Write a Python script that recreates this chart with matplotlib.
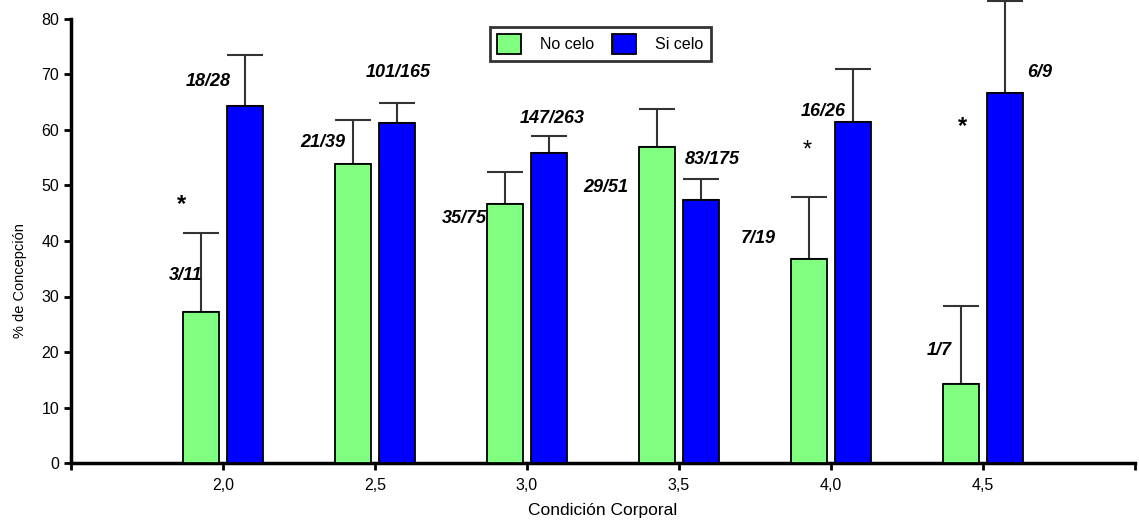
import matplotlib
matplotlib.use("Agg")
import matplotlib.pyplot as plt
from matplotlib.patches import Patch
import numpy as np

plt.rcParams['font.family'] = ['Liberation Sans', 'DejaVu Sans']

categories = [2.0, 2.5, 3.0, 3.5, 4.0, 4.5]
tick_labels = ["2,0", "2,5", "3,0", "3,5", "4,0", "4,5"]
no_celo = [27.2, 53.8, 46.7, 56.9, 36.8, 14.3]
si_celo = [64.3, 61.2, 55.9, 47.4, 61.5, 66.7]
no_celo_err = [14.2, 8.0, 5.8, 6.9, 11.2, 14.0]
si_celo_err = [9.2, 3.7, 3.0, 3.8, 9.5, 16.5]
series_names = ["No celo", "Si celo"]

# annotation labels (text, x, y)
ratio_no = ["3/11", "21/39", "35/75", "29/51", "7/19", "1/7"]
ratio_no_pos = [(1.878, 33.8), (2.329, 57.8), (2.793, 44.1), (3.260, 49.7), (3.760, 40.5), (4.355, 20.2)]
ratio_si = ["18/28", "101/165", "147/263", "83/175", "16/26", "6/9"]
ratio_si_pos = [(1.951, 68.8), (2.576, 70.3), (3.082, 62.0), (3.609, 54.6), (3.974, 63.4), (4.688, 70.3)]
stars = [(1.862, 46.5, 'bold', 17), (3.921, 56.3, 'normal', 17), (4.434, 60.6, 'bold', 17)]

green = "#80FF80"
blue = "#0000FF"

fig = plt.figure(figsize=(11.39, 5.21), dpi=100)
ax = fig.add_axes([71/1139, 1 - 463/521, (1135-71)/1139, (463-19)/521])

x = np.array(categories)
w = 0.118
off = 0.071
ax.bar(x - off, no_celo, width=w, color=green, edgecolor='black', linewidth=1.3, zorder=3)
ax.bar(x + off, si_celo, width=w, color=blue, edgecolor='black', linewidth=1.3, zorder=3)
for xs, vals, errs in [(x - off, no_celo, no_celo_err), (x + off, si_celo, si_celo_err)]:
    ax.errorbar(xs, vals, yerr=[np.zeros(len(vals)), errs], fmt='none', ecolor='#333333',
                elinewidth=1.5, capsize=13.3, capthick=1.5, zorder=2, clip_on=False)

for t, (tx, ty) in zip(ratio_no, ratio_no_pos):
    ax.text(tx, ty, t, ha='center', va='center', fontsize=13, fontweight='bold', fontstyle='italic')
for t, (tx, ty) in zip(ratio_si, ratio_si_pos):
    ax.text(tx, ty, t, ha='center', va='center', fontsize=13, fontweight='bold', fontstyle='italic')
for sx, sy, fw, fs in stars:
    ax.text(sx, sy, "*", ha='center', va='center', fontsize=fs, fontweight=fw)

ax.set_xlim(1.5, 5.0)
ax.set_ylim(0, 80)
ax.set_yticks(np.arange(0, 81, 10))
ax.set_xticks([1.5] + categories + [5.0])
ax.set_xticklabels([""] + tick_labels + [""])
ax.tick_params(axis='both', direction='out', length=5, width=2, labelsize=11.5)
ax.tick_params(axis='x', pad=6)
for s in ['top', 'right']:
    ax.spines[s].set_visible(False)
for s in ['left', 'bottom']:
    ax.spines[s].set_linewidth(2.5)

ax.set_xlabel("Condición Corporal", fontsize=12.5, labelpad=7)
ax.set_ylabel("% de Concepción", fontsize=10.5)
ax.yaxis.set_label_coords(-0.0415, (463 - 281) / 444)

handles = [Patch(facecolor=green, edgecolor='black', linewidth=1.3),
           Patch(facecolor=blue, edgecolor='black', linewidth=1.3)]
leg = ax.legend(handles, series_names, ncol=2, loc='upper left',
                bbox_to_anchor=((490-71)/1064, (463-27)/444), fontsize=11.5,
                frameon=True, fancybox=False, handlelength=1.5, handleheight=1.5,
                handletextpad=1.2, columnspacing=1.1, borderpad=0.45, borderaxespad=0)
leg.get_frame().set_edgecolor('black')
leg.get_frame().set_linewidth(2)

fig.savefig("out.png", dpi=100)
